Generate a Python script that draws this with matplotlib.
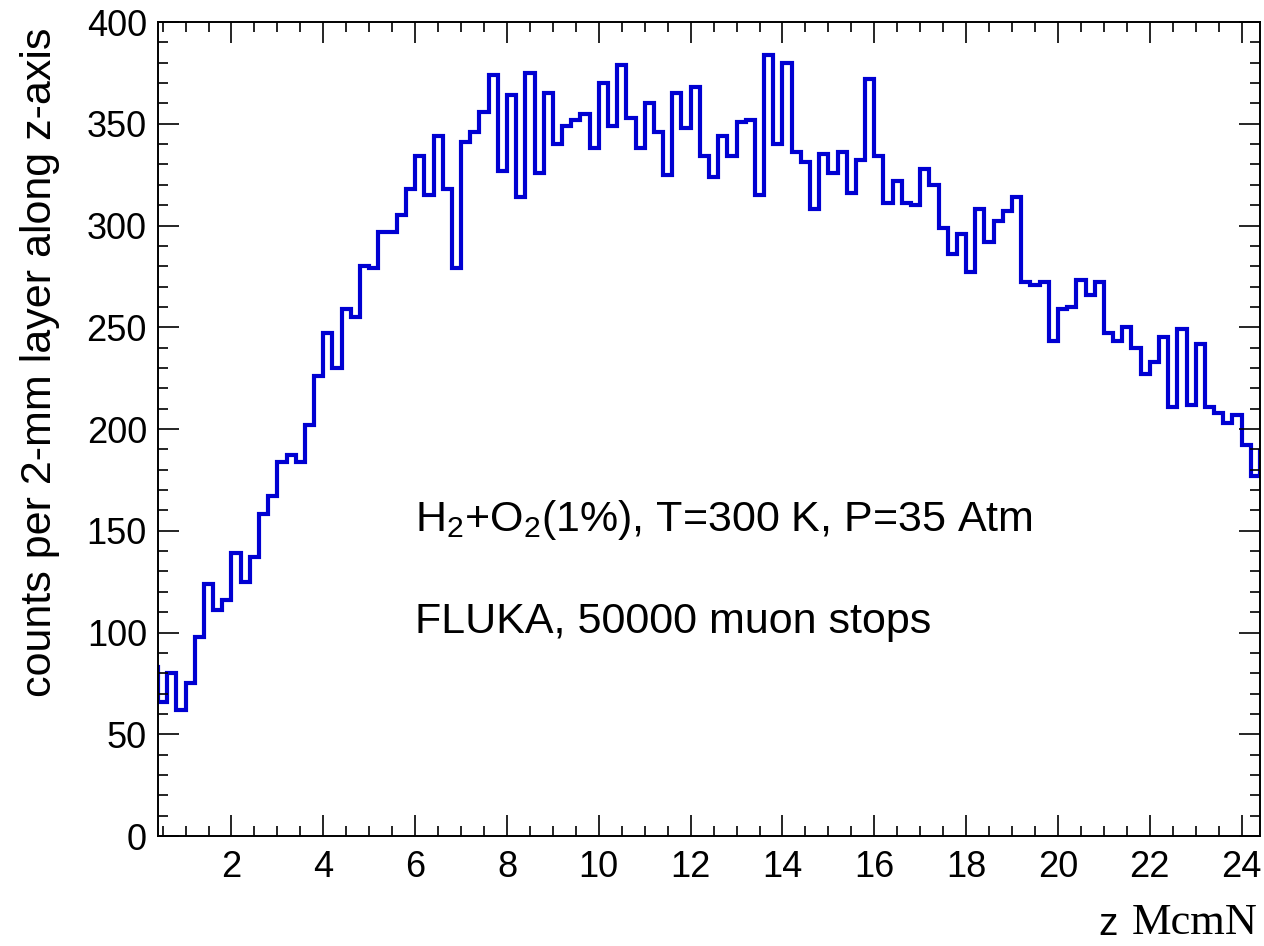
import matplotlib
matplotlib.use("Agg")
import matplotlib.pyplot as plt
from matplotlib.ticker import MultipleLocator
import numpy as np

# ---- data (counts per 0.2 cm bin, z from 0.4 to 24.4) ----
z_start = 0.4
bin_width = 0.2
counts = [66, 80, 62, 75, 98, 124, 111, 116, 139, 125,
          137, 158, 167, 184, 187, 184, 202, 226, 247, 230,
          259, 255, 280, 279, 297, 297, 305, 318, 334, 315,
          344, 318, 279, 341, 346, 356, 374, 327, 364, 314,
          375, 326, 365, 340, 349, 352, 355, 338, 370, 349,
          379, 353, 338, 360, 346, 325, 365, 348, 368, 334,
          324, 344, 334, 351, 352, 315, 384, 340, 380, 336,
          331, 308, 335, 326, 336, 316, 332, 372, 334, 311,
          322, 311, 310, 328, 320, 299, 286, 296, 277, 308,
          292, 302, 307, 314, 272, 271, 272, 243, 259, 260,
          273, 266, 272, 247, 243, 250, 240, 227, 233, 245,
          211, 249, 212, 242, 211, 208, 203, 207, 192, 177]
outside_left = 83    # bin just left of the visible range
outside_right = 189  # bin just right of the visible range

x_ticks = [2, 4, 6, 8, 10, 12, 14, 16, 18, 20, 22, 24]
y_ticks = [0, 50, 100, 150, 200, 250, 300, 350, 400]

plt.rcParams['font.family'] = ['Liberation Sans', 'DejaVu Sans']
plt.rcParams['mathtext.fontset'] = 'custom'
plt.rcParams['mathtext.rm'] = 'Liberation Sans'
plt.rcParams['mathtext.it'] = 'Liberation Sans:italic'
plt.rcParams['mathtext.default'] = 'regular'

W, H = 1264, 946
fig = plt.figure(figsize=(W / 100, H / 100), dpi=100)
ax = fig.add_axes([158 / W, 1 - 836 / H, (1260 - 158) / W, (836 - 22) / H])

vals = np.array([outside_left] + counts + [outside_right], dtype=float)
n = len(counts)
edges = z_start + bin_width * np.arange(-1, n + 2)
ax.stairs(vals, edges, color='#0000d2', linewidth=3.0, baseline=None)

ax.set_xlim(z_start, z_start + n * bin_width)
ax.set_ylim(0, 400)
ax.set_xticks(x_ticks)
ax.set_yticks(y_ticks)
ax.xaxis.set_minor_locator(MultipleLocator(0.5))
ax.yaxis.set_minor_locator(MultipleLocator(10))
ax.tick_params(which='both', direction='in', top=True, right=True, width=1.2)
ax.tick_params(which='major', length=15, labelsize=26)
ax.tick_params(axis='x', which='major', pad=10)
ax.tick_params(axis='y', which='major', pad=8)
ax.tick_params(which='minor', length=7.5)
for s in ax.spines.values():
    s.set_linewidth(1.4)

fig.text(40 / W, 1 - 28 / H, 'counts per 2-mm layer along z-axis',
         rotation=90, ha='center', va='top', fontsize=31)

fig.text(1258 / W, 1 - 943 / H, 'McmN', ha='right', va='bottom',
         fontsize=32, family=['Liberation Serif', 'DejaVu Serif'])
fig.text(1118 / W, 1 - 943 / H, 'z', ha='right', va='bottom', fontsize=28)

ax.text(415 / W, 1 - 531 / H, r'H$_2$+O$_2$(1%), T=300 K, P=35 Atm',
        transform=fig.transFigure, ha='left', va='baseline', fontsize=31)
ax.text(415 / W, 1 - 633 / H, 'FLUKA, 50000 muon stops',
        transform=fig.transFigure, ha='left', va='baseline', fontsize=31)

fig.savefig('out.png', dpi=100)
